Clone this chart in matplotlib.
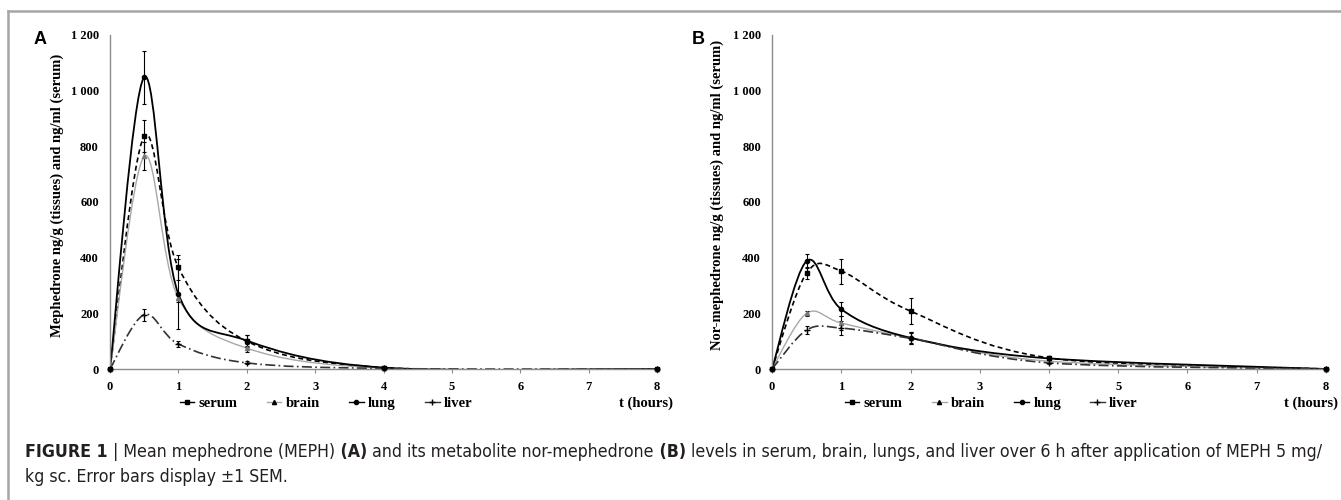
import numpy as np
import matplotlib.pyplot as plt
from matplotlib import font_manager as fm
from matplotlib.path import Path
from matplotlib.patches import PathPatch
from matplotlib.lines import Line2D
from matplotlib.ticker import FuncFormatter

# sampling times (hours)
hours = [0, 0.5, 1, 2, 4, 8]

# panel A - mephedrone
serum_a = [0, 836, 365, 100, 5, 0]
serum_a_err = [0, 57, 45, 22, 4, 0]
brain_a = [0, 764, 255, 75, 3, 0]
brain_a_err = [0, 50, 15, 15, 2, 0]
lung_a = [0, 1048, 270, 102, 5, 0]
lung_a_err = [0, 95, 125, 20, 3, 0]
liver_a = [0, 195, 90, 22, 2, 0]
liver_a_err = [0, 22, 12, 5, 1, 0]

# panel B - nor-mephedrone
serum_b = [0, 345, 352, 208, 40, 0]
serum_b_err = [0, 20, 45, 47, 8, 0]
brain_b = [0, 200, 165, 112, 28, 0]
brain_b_err = [0, 10, 25, 20, 5, 0]
lung_b = [0, 388, 215, 112, 38, 0]
lung_b_err = [0, 25, 25, 22, 6, 0]
liver_b = [0, 140, 147, 110, 22, 0]
liver_b_err = [0, 15, 25, 20, 4, 0]

tissues = ["serum", "brain", "lung", "liver"]
styles = {
    "serum": dict(color="black", ls=(0, (3, 2)), lw=1.2, marker="s", ms=3.5),
    "brain": dict(color="#a8a8a8", ls="-", lw=1.0, marker="^", ms=3),
    "lung": dict(color="black", ls="-", lw=1.3, marker="o", ms=3),
    "liver": dict(color="#333333", ls=(0, (6, 2, 1, 2)), lw=1.2, marker="+", ms=4),
}

serif = ["Liberation Serif", "DejaVu Serif"]


def smooth_path(x, y, k=1 / 6):
    # excel-like smoothed line: cubic bezier through the points
    pts = np.column_stack([x, y]).astype(float)
    n = len(pts)
    verts = [pts[0]]
    codes = [Path.MOVETO]
    for i in range(n - 1):
        p0 = pts[max(i - 1, 0)]
        p1 = pts[i]
        p2 = pts[i + 1]
        p3 = pts[min(i + 2, n - 1)]
        verts += [p1 + (p2 - p0) * k, p2 - (p3 - p1) * k, p2]
        codes += [Path.CURVE4] * 3
    return Path(verts, codes)


def draw_panel(ax, data, ylabel, label_x):
    for name in tissues:
        y, err = data[name]
        st = styles[name]
        ax.add_patch(PathPatch(smooth_path(hours, y), fill=False, edgecolor=st["color"],
                               linestyle=st["ls"], linewidth=st["lw"], zorder=2))
        ax.errorbar(hours, y, yerr=err, fmt="none", ecolor="black", elinewidth=0.8,
                    capsize=1.5, capthick=0.8, zorder=3)
        ax.plot(hours, y, linestyle="none", marker=st["marker"], ms=st["ms"],
                color="black" if name != "brain" else "#777777", clip_on=False, zorder=4)
    ax.set_xlim(0, 8)
    ax.set_ylim(0, 1200)
    ax.set_xticks(range(9))
    ax.set_yticks(range(0, 1201, 200))
    ax.yaxis.set_major_formatter(FuncFormatter(lambda v, p: f"{int(v):,}".replace(",", " ")))
    for s in ["top", "right"]:
        ax.spines[s].set_visible(False)
    for s in ["left", "bottom"]:
        ax.spines[s].set_color("#8c8c8c")
        ax.spines[s].set_linewidth(1.0)
    ax.tick_params(axis="y", length=0, pad=8)
    ax.tick_params(axis="x", length=3, color="#8c8c8c", pad=6)
    for lab in ax.get_xticklabels() + ax.get_yticklabels():
        lab.set_family(serif)
        lab.set_fontweight("bold")
        lab.set_fontsize(9)
    ax.set_ylabel(ylabel, family=serif, fontweight="bold", fontsize=10.5)
    ax.yaxis.set_label_coords(label_x, 0.52)


fig = plt.figure(figsize=(13.41, 5), dpi=100)
ax_a = fig.add_axes([0.082, 0.262, 0.408, 0.668])
ax_b = fig.add_axes([0.5757, 0.262, 0.4131, 0.668])

draw_panel(ax_a, {"serum": (serum_a, serum_a_err), "brain": (brain_a, brain_a_err),
                  "lung": (lung_a, lung_a_err), "liver": (liver_a, liver_a_err)},
           "Mephedrone ng/g (tissues) and ng/ml (serum)", -0.084)
draw_panel(ax_b, {"serum": (serum_b, serum_b_err), "brain": (brain_b, brain_b_err),
                  "lung": (lung_b, lung_b_err), "liver": (liver_b, liver_b_err)},
           "Nor-mephedrone ng/g (tissues) and ng/ml (serum)", -0.087)

# legends under each panel
handles = [Line2D([], [], color=styles[n]["color"], ls="-", lw=1.0, marker=styles[n]["marker"],
                  ms=styles[n]["ms"], markerfacecolor="black", markeredgecolor="black")
           for n in tissues]
for x0, xr in [(0.134, 673 / 1341), (0.630, 1338 / 1341)]:
    fig.legend(handles, tissues, loc="center left", bbox_to_anchor=(x0, 0.194),
               ncol=4, frameon=False, handlelength=1.0, handletextpad=0.3,
               columnspacing=2.0, prop=dict(family=serif, weight="bold", size=10.5),
               borderaxespad=0, borderpad=0)
    fig.text(xr, 0.194, "t (hours)", ha="right", va="center", family=serif,
             fontweight="bold", fontsize=10.5)

# panel letters
fig.text(40 / 1341, 1 - 40 / 500, "A", ha="center", va="center", family="Liberation Sans",
         fontweight="bold", fontsize=13)
fig.text(698 / 1341, 1 - 40 / 500, "B", ha="center", va="center", family="Liberation Sans",
         fontweight="bold", fontsize=13)

# gray frame around the figure area
fig.add_artist(Line2D([8 / 1341, 1], [1 - 11 / 500, 1 - 11 / 500], color="#a6a6a6", lw=1.8))
fig.add_artist(Line2D([8 / 1341, 8 / 1341], [0, 1 - 11 / 500], color="#a6a6a6", lw=1.8))


# caption font: look for a narrow sans face, else plain Liberation Sans
def narrow_faces():
    fams = {}
    for f in fm.fontManager.ttflist:
        narrow = ("Narrow" in f.name or "Condensed" in f.name
                  or f.stretch in ("condensed", "semi-condensed", "extra-condensed"))
        if narrow and f.style == "normal" and "Sans" in f.name and "Mono" not in f.name:
            w = f.weight if isinstance(f.weight, int) else fm.weight_dict.get(f.weight, 400)
            fams.setdefault((f.name, f.stretch), {})[w] = f.fname
    order = ["Liberation", "Roboto", "Open Sans", "Noto", "DejaVu"]
    best = None
    for key in sorted(fams, key=lambda k: next((i for i, o in enumerate(order) if o in k[0]), 9)):
        ws = fams[key]
        if 400 in ws and 700 in ws:
            best = ws
            break
    return best


faces = narrow_faces()


def cap_prop(weight, size):
    if faces:
        return fm.FontProperties(fname=faces[700 if weight == "bold" else 400], size=size)
    return fm.FontProperties(family="Liberation Sans", weight=weight, size=size)


line1 = [("FIGURE 1", "bold"), (" | Mean mephedrone (MEPH)", "normal"), (" (A)", "bold"),
         (" and its metabolite nor-mephedrone", "normal"), (" (B)", "bold"),
         (" levels in serum, brain, lungs, and liver over 6 h after application of MEPH 5 mg/",
          "normal")]
line2 = [("kg sc. Error bars display \u00b11 SEM.", "normal")]

renderer = fig.canvas.get_renderer()


def put_line(parts, y, size):
    x = 25
    arts = []
    for txt, w in parts:
        t = fig.text(x / 1341, y, txt, fontproperties=cap_prop(w, size),
                     color="#231f20", va="baseline", ha="left")
        bb = t.get_window_extent(renderer)
        x += bb.width
        arts.append(t)
    return x, arts


size = 11.5
end, arts = put_line(line1, 1 - 457 / 500, size)
for a in arts:
    a.remove()
size = size * (1325 - 25) / (end - 25)
put_line(line1, 1 - 457 / 500, size)
put_line(line2, 1 - 482 / 500, size)

fig.savefig("out.png", dpi=100)
